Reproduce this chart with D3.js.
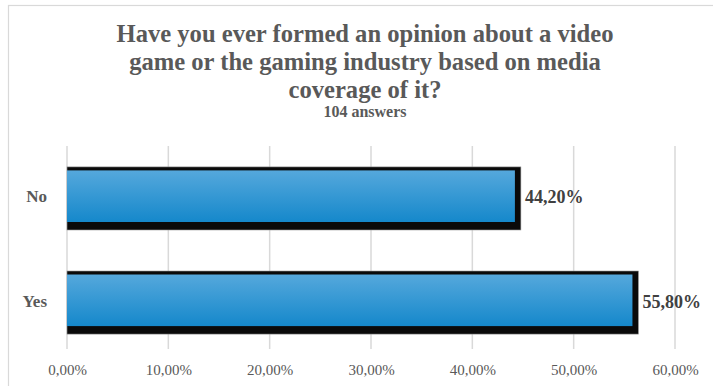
<!DOCTYPE html>
<html>
<head>
<meta charset="utf-8">
<script src="https://cdn.jsdelivr.net/npm/d3@7"></script>
<style>
  body { margin: 0; background: #fff; }
  svg text { font-family: "Liberation Serif", "DejaVu Serif", serif; }
</style>
</head>
<body>
<svg id="chart"></svg>
<script>
const categories = ['No', 'Yes'];
const shares = [0.442, 0.558];
const valueLabels = ['44,20%', '55,80%'];
const xTicks = [0, 0.1, 0.2, 0.3, 0.4, 0.5, 0.6];
const titleLines = [
  'Have you ever formed an opinion about a video',
  'game or the gaming industry based on media',
  'coverage of it?'
];
const subtitle = '104 answers';

const serif = '"Liberation Serif", "DejaVu Serif", serif';

const width = 713,
  height = 386,
  margin = {top: 146, right: 38, bottom: 37, left: 67};

const svg = d3.select('#chart')
  .attr('width', width)
  .attr('height', height)
  .attr('font-family', serif);

// chart frame (runs off the right and bottom edges)
svg.append('rect')
  .attr('x', 8.5)
  .attr('y', 5.5)
  .attr('width', width + 20)
  .attr('height', height + 20)
  .attr('fill', 'none')
  .attr('stroke', '#d9d9d9')
  .attr('stroke-width', 1.2);

const defs = svg.append('defs');
const grad = defs.append('linearGradient')
  .attr('id', 'barFill')
  .attr('x1', 0).attr('y1', 0).attr('x2', 0).attr('y2', 1);
grad.append('stop').attr('offset', '0%').attr('stop-color', '#55a8dc');
grad.append('stop').attr('offset', '100%').attr('stop-color', '#1588cb');

const x = d3.scaleLinear()
  .domain([0, 0.6])
  .range([margin.left, width - margin.right]);

const y = d3.scaleBand()
  .domain(categories)
  .range([margin.top, height - margin.bottom])
  .paddingInner(0.49)
  .paddingOuter(0.22);

// gridlines
svg.append('g')
  .selectAll('line')
  .data(xTicks)
  .enter().append('line')
  .attr('x1', d => x(d))
  .attr('x2', d => x(d))
  .attr('y1', margin.top)
  .attr('y2', height - margin.bottom)
  .attr('stroke', '#d9d9d9')
  .attr('stroke-width', 1.5);

// x axis labels
const xAxis = svg.append('g')
  .attr('transform', `translate(0,${height - margin.bottom})`)
  .call(d3.axisBottom(x)
    .tickValues(xTicks)
    .tickSize(0)
    .tickPadding(15)
    .tickFormat(d => d3.format('.2f')(d * 100).replace('.', ',') + '%'));
xAxis.attr('font-family', serif);
xAxis.select('.domain').remove();
xAxis.selectAll('text')
  .attr('font-size', 15)
  .attr('fill', '#595959');

// bars with black drop shadow
const bar = svg.append('g')
  .selectAll('g')
  .data(categories)
  .enter().append('g');

bar.append('rect')
  .attr('x', x(0))
  .attr('y', d => y(d) - 2)
  .attr('width', (d, i) => x(shares[i]) - x(0) + 6)
  .attr('height', y.bandwidth() + 10)
  .attr('fill', '#0a0a0a')
  .attr('stroke', '#9a9a9a')
  .attr('stroke-width', 0.6);

bar.append('rect')
  .attr('x', x(0))
  .attr('y', d => y(d) + 1.5)
  .attr('width', (d, i) => x(shares[i]) - x(0))
  .attr('height', y.bandwidth() - 1.5)
  .attr('fill', 'url(#barFill)');

bar.append('text')
  .attr('x', (d, i) => x(shares[i]) + 10)
  .attr('y', d => y(d) + y.bandwidth() / 2 + 8)
  .attr('font-size', 18)
  .attr('font-weight', 'bold')
  .attr('fill', '#404040')
  .text((d, i) => valueLabels[i]);

// category labels
svg.append('g')
  .selectAll('text')
  .data(categories)
  .enter().append('text')
  .attr('x', 47)
  .attr('y', d => y(d) + y.bandwidth() / 2 + 7)
  .attr('text-anchor', 'end')
  .attr('font-size', 17)
  .attr('font-weight', 'bold')
  .attr('fill', '#595959')
  .text(d => d);

// title
const title = svg.append('g');
title.selectAll('text')
  .data(titleLines)
  .enter().append('text')
  .attr('x', 365)
  .attr('y', (d, i) => 42 + i * 28)
  .attr('text-anchor', 'middle')
  .attr('font-size', 24.6)
  .attr('font-weight', 'bold')
  .attr('fill', '#595959')
  .text(d => d);

title.append('text')
  .attr('x', 365)
  .attr('y', 117)
  .attr('text-anchor', 'middle')
  .attr('font-size', 16)
  .attr('font-weight', 'bold')
  .attr('fill', '#595959')
  .text(subtitle);
</script>
</body>
</html>
